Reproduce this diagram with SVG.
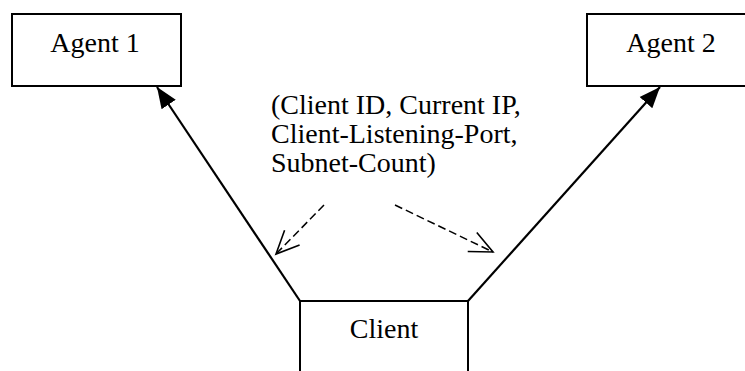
<svg xmlns="http://www.w3.org/2000/svg" width="745" height="371" viewBox="0 0 745 371">
<style>
  .box { fill: #ffffff; stroke: #000000; stroke-width: 2; }
  .lbl { font-family: "Liberation Serif", "Times New Roman", serif; font-size: 28px; fill: #000000; }
  .solid { stroke: #000000; stroke-width: 2.2; fill: none; }
  .dash { stroke: #000000; stroke-width: 1.5; fill: none; stroke-dasharray: 8 4; }
</style>
<defs>
  <marker id="filled" markerUnits="userSpaceOnUse" viewBox="0 -10 22 20" refX="21" refY="0" markerWidth="22" markerHeight="20" orient="auto">
    <path d="M0,-8.5 L21,0 L0,8.5 z" fill="#000000"/>
  </marker>
  <marker id="open" markerUnits="userSpaceOnUse" viewBox="-2 -13 28 26" refX="23" refY="0" markerWidth="28" markerHeight="26" orient="auto">
    <path d="M0,-10.5 L23,0 L0,10.5" fill="none" stroke="#000000" stroke-width="1.6"/>
  </marker>
</defs>
<rect width="745" height="371" fill="#ffffff"/>
<g id="connectors">
  <line class="solid" x1="300" y1="301" x2="157" y2="87" marker-end="url(#filled)"/>
  <line class="solid" x1="468" y1="301" x2="660" y2="87" marker-end="url(#filled)"/>
  <line class="dash" x1="324" y1="205" x2="276" y2="254" marker-end="url(#open)"/>
  <line class="dash" x1="395" y1="205" x2="493" y2="252" marker-end="url(#open)"/>
</g>
<g id="agent1">
  <rect class="box" x="12" y="14" width="169" height="72"/>
  <text class="lbl" x="95" y="52" text-anchor="middle">Agent 1</text>
</g>
<g id="agent2">
  <rect class="box" x="587" y="14" width="169" height="72"/>
  <text class="lbl" x="671" y="52" text-anchor="middle">Agent 2</text>
</g>
<g id="client">
  <rect class="box" x="300" y="301" width="168" height="90"/>
  <text class="lbl" x="384" y="338" text-anchor="middle">Client</text>
</g>
<g id="message-label">
  <text class="lbl" x="271" y="114">(Client ID, Current IP,</text>
  <text class="lbl" x="271" y="143">Client-Listening-Port,</text>
  <text class="lbl" x="271" y="172">Subnet-Count)</text>
</g>
</svg>
